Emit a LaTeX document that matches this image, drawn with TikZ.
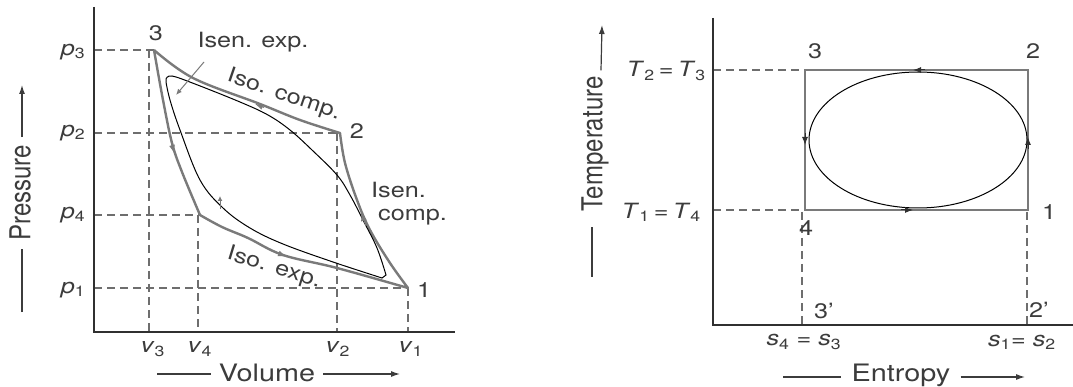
\documentclass[tikz,border=0pt]{standalone}
\usepackage{fontspec}
\usepackage{graphicx}
\setmainfont{TeX Gyre Heros}
\usetikzlibrary{arrows.meta,calc}
\definecolor{txt}{HTML}{3C3C3C}
\definecolor{cyc}{HTML}{7A7A7A}
\definecolor{axc}{HTML}{303030}
\newcommand\hs[1]{\scalebox{1.2}[1]{#1}}
\newcommand\vs[1]{\scalebox{1}[1.2]{#1}}
\begin{document}
\begin{tikzpicture}[x=1pt,y=-1pt,
  lbl/.style={text=txt,inner sep=0pt,font=\fontsize{21}{24}\selectfont},
  ttl/.style={text=txt,inner sep=0pt,font=\fontsize{24}{28}\selectfont},
  axis/.style={draw=axc,line width=2pt},
  dsh/.style={draw=cyc!90!black,line width=1.5pt,dash pattern=on 8pt off 5pt},
  outer/.style={draw=cyc,line width=2.4pt,line join=round},
  inner/.style={draw=black,line width=1pt,line join=miter},
  tip/.style={-{Latex[length=8pt,width=6pt]},line width=1pt},
  ttlarrow/.style={draw=txt,line width=1.2pt,-{Latex[length=9pt,width=6pt]}},
  ttlline/.style={draw=txt,line width=1.2pt}]
\fill[white] (0,0) rectangle (1073,387);
\useasboundingbox (0,0) rectangle (1073,387);

% ================= LEFT: p-v diagram =================
\coordinate (O1) at (94,332);
\coordinate (Ytop1) at (94,7);
\coordinate (Xend1) at (455,332);
\coordinate (P1) at (408,288);
\coordinate (P2) at (340,133);
\coordinate (P3) at (154,50);
\coordinate (P4) at (200,215);
\coordinate (yp3) at (94,50);
\coordinate (yp2) at (94,133);
\coordinate (yp4) at (94,215);
\coordinate (yp1) at (94,288);
\coordinate (xv3t) at (149,50);
\coordinate (xv3) at (149,332);
\coordinate (xv4t) at (198,215);
\coordinate (xv4) at (198,332);
\coordinate (xv2t) at (337,133);
\coordinate (xv2) at (337,332);
\coordinate (xv1) at (408,332);

% dashed projections
\draw[dsh] (yp3) -- (P3);
\draw[dsh] (yp2) -- (P2);
\draw[dsh] (yp4) -- (P4);
\draw[dsh] (yp1) -- (P1);
\draw[dsh] (xv3t) -- (xv3);
\draw[dsh] (xv4t) -- (xv4);
\draw[dsh] (xv2t) -- (xv2);
\draw[dsh] (P1) -- (xv1);

% axes
\draw[axis] (Ytop1) -- (O1) -- (Xend1);

% outer cycle
\draw[outer] plot[smooth,tension=0.6] coordinates {(P3) (193,78) (260,104) (300,120) (P2)}
  -- plot[smooth,tension=0.6] coordinates {(P2) (345,163) (357,200) (370,230) (390,263) (P1)}
  -- plot[smooth,tension=0.6] coordinates {(P1) (337,268) (283,255) (248,238) (222,227) (P4)}
  -- plot[smooth,tension=0.6] coordinates {(P4) (182,172) (172,143) (163,100) (P3)};

% inner cycle
\draw[inner] plot[smooth,tension=0.6] coordinates {(166,79) (172,76) (195,84) (240,102) (268,115) (290,130) (312,150) (337,175) (350,195) (363,220) (377,248) (386,275)}
  -- (382,278)
  -- plot[smooth,tension=0.6] coordinates {(382,278) (333,262) (283,244) (250,228) (223,208) (200,180) (180,130) (170,100) (166,82)}
  -- cycle;

% direction marks
\draw[cyc,tip] (264,107.5) -- (255,104);
\draw[cyc,tip] (171,141) -- (174,153);
\draw[cyc,tip] (276,252.5) -- (286,256.5);
\draw[cyc,tip] (366,226) -- (361,213);
\draw[cyc,line width=1pt,-{Latex[length=5pt,width=5pt]}] (220,209) -- (220,196);

% leader for Isen. exp.
\coordinate (ldA) at (204,62);
\coordinate (ldB) at (176,95);
\draw[cyc,line width=1pt,-{Latex[length=6pt,width=5pt]}] (ldA) -- (ldB);

% labels
\node[lbl] (n3) at (156,33) {\hs{3}};
\node[lbl] (n2) at (357,131) {\hs{2}};
\node[lbl] (n1) at (424,290) {\hs{1}};
\node[lbl] (isenexp) at (253,42) {\hs{Isen. exp.}};
\node[lbl,rotate=-19] (isocomp) at (284,95) {\hs{Iso. comp.}};
\node[lbl,anchor=west] (isen) at (371,190) {\hs{Isen.}};
\node[lbl,anchor=west] (comp) at (378,217) {\hs{comp.}};
\node[lbl,rotate=-17] (isoexp) at (274,268) {\hs{Iso. exp.}};
\node[lbl] (lp3) at (73,52) {\hs{\textit{p}\textsubscript{3}}};
\node[lbl] (lp2) at (73,133) {\hs{\textit{p}\textsubscript{2}}};
\node[lbl] (lp4) at (73,215) {\hs{\textit{p}\textsubscript{4}}};
\node[lbl] (lp1) at (73,290) {\hs{\textit{p}\textsubscript{1}}};
\node[lbl] (lv3) at (153,349) {\hs{\textit{v}\textsubscript{3}}};
\node[lbl] (lv4) at (200,349) {\hs{\textit{v}\textsubscript{4}}};
\node[lbl] (lv2) at (338,349) {\hs{\textit{v}\textsubscript{2}}};
\node[lbl] (lv1) at (411,349) {\hs{\textit{v}\textsubscript{1}}};

% axis titles
\node[ttl] (vol) at (267,373) {\hs{Volume}};
\coordinate (volL) at (157,374);
\coordinate (volR) at (400,374);
\draw[ttlline] (volL) -- ($(vol.west)+(-8,1)$);
\draw[ttlarrow] ($(vol.east)+(8,1)$) -- (volR);
\node[ttl,rotate=90] (pres) at (20,193) {\vs{Pressure}};
\coordinate (presB) at (22,312);
\coordinate (presT) at (22,85);
\draw[ttlline] (presB) -- ($(pres.west)+(2,8)$);
\draw[ttlarrow] ($(pres.east)+(2,-8)$) -- (presT);

% ================= RIGHT: T-s diagram =================
\coordinate (O2) at (713,325);
\coordinate (Ytop2) at (713,18);
\coordinate (Xend2) at (1073,325);
\coordinate (Q3) at (805,70);
\coordinate (Q2) at (1028,70);
\coordinate (Q1) at (1028,210);
\coordinate (Q4) at (805,210);
\coordinate (yT3) at (713,70);
\coordinate (yT4) at (713,210);
\coordinate (s3t) at (802,212);
\coordinate (s3b) at (802,325);
\coordinate (s2t) at (1027,212);
\coordinate (s2b) at (1027,325);
\coordinate (E) at (918,140);

\draw[dsh] (yT3) -- (Q3);
\draw[dsh] (yT4) -- (Q4);
\draw[dsh] (s3t) -- (s3b);
\draw[dsh] (s2t) -- (s2b);
\draw[axis] (Ytop2) -- (O2) -- (Xend2);

\draw[outer,line join=miter] (Q3) -- (Q2) -- (Q1) -- (Q4) -- cycle;
\draw[inner] (E) ellipse [x radius=109, y radius=68];

\draw[axc,tip] (925,70) -- (913,70);
\draw[axc,tip] (901,210) -- (913,210);
\draw[axc,tip] (805,133) -- (805,145);
\draw[axc,tip] (1028,149) -- (1028,137);

\node[lbl] (m3) at (815,51) {\hs{3}};
\node[lbl] (m2) at (1033,51) {\hs{2}};
\node[lbl] (m1) at (1049,212) {\hs{1}};
\node[lbl] (m4) at (806,228) {\hs{4}};
\node[lbl] (m3p) at (824,311) {\hs{3’}};
\node[lbl] (m2p) at (1039,310) {\hs{2’}};
\node[lbl,anchor=east] (lT23) at (706,71) {\hs{\textit{T}\textsubscript{2}\,=\,\textit{T}\textsubscript{3}}};
\node[lbl,anchor=east] (lT14) at (701,212) {\hs{\textit{T}\textsubscript{1}\,=\,\textit{T}\textsubscript{4}}};
\node[lbl] (ls43) at (804,342) {\hs{\textit{s}\textsubscript{4} = \textit{s}\textsubscript{3}}};
\node[lbl] (ls12) at (1022,342) {\hs{\textit{s}\textsubscript{1}= \textit{s}\textsubscript{2}}};

\node[ttl] (ent) at (901,375) {\hs{Entropy}};
\coordinate (entL) at (783,377);
\coordinate (entR) at (1025,377);
\draw[ttlline] (entL) -- ($(ent.west)+(-10,2)$);
\draw[ttlarrow] ($(ent.east)+(10,2)$) -- (entR);
\node[ttl,rotate=90] (temp) at (595,144) {\vs{Temperature}};
\coordinate (tempB) at (592,277);
\coordinate (tempT) at (602,25);
\draw[ttlline] (tempB) -- (592,227);
\draw[ttlarrow] ($(temp.east)+(6,-6)$) -- (tempT);
\end{tikzpicture}
\end{document}
